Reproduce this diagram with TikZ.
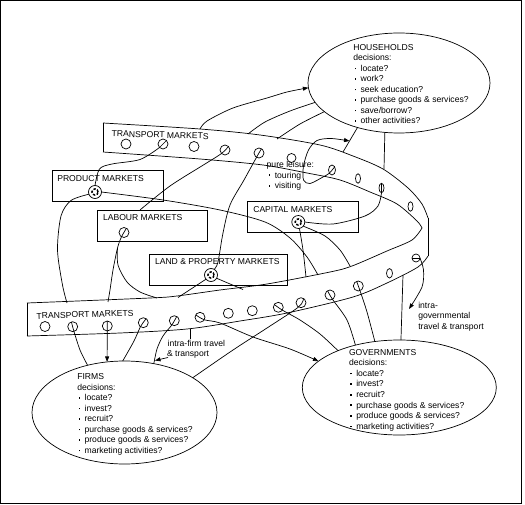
\documentclass[tikz,border=0pt]{standalone}
\usepackage{fontspec}
\setmainfont{Liberation Sans}
\usetikzlibrary{arrows.meta,shapes.geometric}
\newcommand{\bul}{\makebox[7.3pt][l]{\hspace{1.2pt}\rule[2pt]{1.7pt}{1.7pt}}}
\begin{document}
\begin{tikzpicture}[x=1pt,y=-1pt,line width=0.7pt,
 every node/.style={inner sep=0pt,outer sep=0pt},
 lbl/.style={font=\fontsize{8.6}{10.5}\selectfont},
 ell/.style={draw,ellipse},
 box/.style={draw,anchor=north west,minimum height=31pt},
 pc/.style={draw,circle,minimum size=10pt},
 nc/.style={draw,ellipse,minimum width=5pt,minimum height=9.5pt},
 mk/.style={draw,circle,minimum size=13pt,path picture={\draw[line width=1.5pt,dash pattern=on 2.4pt off 1.6pt] (path picture bounding box.center) circle[radius=3.1pt];}},
 arr/.style={-{Triangle[length=5.5pt,width=4pt]}}]
\fill[white] (0,0) rectangle (525,505);
\useasboundingbox (0,0) rectangle (525,505);
\draw[line width=1pt] (0.5,0.5) rectangle (521.5,503.5);

% ---------- ellipses ----------
\node[ell,minimum width=182pt,minimum height=100pt] (hh) at (399,83) {};
\node[ell,minimum width=185pt,minimum height=103pt] (fi) at (124.5,412.5) {};
\node[ell,minimum width=194pt,minimum height=95pt] (gov) at (399.3,387.5) {};

\node[lbl,anchor=north west,align=left] (hht) at (353.3,44.3) {HOUSEHOLDS\\decisions:\\\bul locate?\\\bul work?\\\bul seek education?\\\bul purchase goods \& services?\\\bul save/borrow?\\\bul other activities?};
\node[lbl,anchor=north west,align=left] (fit) at (77.3,373.8) {FIRMS\\decisions:\\\bul locate?\\\bul invest?\\\bul recruit?\\\bul purchase goods \& services?\\\bul produce goods \& services?\\\bul marketing activities?};
\node[lbl,anchor=north west,align=left,font=\fontsize{8.6}{10.6}\selectfont] (govt) at (349,349.1) {GOVERNMENTS\\decisions:\\\bul locate?\\\bul invest?\\\bul recruit?\\\bul purchase goods \& services?\\\bul produce goods \& services?\\\bul marketing activities?};

% ---------- market boxes ----------
\node[box,minimum width=111pt] (pmb) at (52,170) {};
\node[box,minimum width=110pt] (lbb) at (97,210) {};
\node[box,minimum width=110.5pt] (cmb) at (247.5,201) {};
\node[box,minimum width=138.5pt] (ldb) at (149,254) {};
\node[lbl,anchor=base west] (pml) at (57.3,182) {PRODUCT MARKETS};
\node[lbl,anchor=base west] (lbl1) at (103,221) {LABOUR MARKETS};
\node[lbl,anchor=base west] (cml) at (253.3,212.7) {CAPITAL MARKETS};
\node[lbl,anchor=base west] (ldl) at (155,265) {LAND \& PROPERTY MARKETS};
\node[mk] (pm) at (95,192) {};
\node[pc] (lm) at (124,232.5) {};
\node[mk] (cm) at (298.3,222) {};
\node[mk] (ld) at (211,275) {};

% ---------- transport ribbon ----------
\draw (103,152) -- (103,123);
\draw plot[smooth] coordinates {(103,123) (200,129) (260,135) (320,145) (353,156) (383,169) (408,188) (422,204) (428,218)};
\draw (428,218) -- (428,256);
\draw plot[smooth] coordinates {(428,256) (418,267) (387,283) (353,297) (287,313) (240,321) (187,329) (120,333) (27,336)};
\draw (27,336) -- (27,303);
\draw plot[smooth] coordinates {(27,303) (150,298) (177,296) (220,290) (267,284) (330,272) (352,266) (387,251) (412,240) (422,228)};
\draw plot[smooth] coordinates {(103,152) (200,159) (263,165) (307,173) (340,180) (370,192) (397,204) (417,221) (422,228)};
\node[lbl,anchor=base west,rotate=-1.5] (tpt) at (111.7,136.7) {TRANSPORT MARKETS};
\node[lbl,anchor=base west,rotate=1.7] (tpb) at (36.7,319) {TRANSPORT MARKETS};

% top band circles
\node[pc] (t1) at (126,144) {};
\node[pc] (t2) at (163,144) {};
\node[pc] (t3) at (194,146.5) {};
\node[pc] (t4) at (225,150) {};
\node[pc] (t5) at (259,153) {};
\node[pc,minimum size=9pt] (t6) at (291.5,158) {};
\node[draw,ellipse,minimum width=7pt,minimum height=10pt] (t7) at (332,170) {};
\node[nc] (t8) at (358,178.5) {};
\node[nc] (t9) at (381.5,188) {};
\node[nc] (t10) at (410.5,206.5) {};
% lower band circles
\node[pc] (b1) at (45,326.5) {};
\node[pc] (b2) at (72.7,326.7) {};
\node[pc] (b3) at (107.3,326) {};
\node[pc] (b4) at (143.3,322.7) {};
\node[pc] (b5) at (174.3,320.7) {};
\node[pc] (b6) at (200,317.3) {};
\node[pc] (b7) at (228.3,313.3) {};
\node[pc] (b8) at (252.3,310.7) {};
\node[pc] (b9) at (278.3,307.3) {};
\node[pc] (b10) at (301,302.7) {};
\node[pc] (b11) at (330,295) {};
\node[pc] (b12) at (358.3,286) {};
\node[nc,minimum width=6pt] (b13) at (389.5,273.3) {};
\node[pc,minimum size=8pt] (b14) at (416,258) {};

% ---------- free ends ----------
\coordinate (e1) at (200,129);
\coordinate (e2) at (248,134);
\coordinate (e3) at (277,139);
\coordinate (e4) at (343,152);
\coordinate (e5) at (384,169);
\coordinate (e6) at (140,210);
\coordinate (e7) at (318,275);
\coordinate (e8) at (67,303);
\coordinate (br) at (117.5,248);
\coordinate (e9) at (108,302);
\coordinate (e10) at (157,298);
\coordinate (e11) at (178,297.5);
\coordinate (e12) at (243,289.5);
\coordinate (e13) at (306,277);
\coordinate (e14) at (350,266);
\coordinate (e15) at (403,275);
\coordinate (it1) at (190,329);
\coordinate (it2) at (190,339);
\coordinate (ia1) at (168,357.5);
\coordinate (ia2) at (155,360.5);
\coordinate (ig) at (409,309);
\path (hh.227) -- (e4) coordinate[pos=0.55] (plA);

% ---------- connectors ----------
% households
\draw[arr] plot[smooth] coordinates {(e1) (207,121) (233,108) (267,98) (287,92) (hh.183)};
\draw plot[smooth] coordinates {(e2) (265,122) (290,111) (hh.193)};
\draw plot[smooth] coordinates {(e3) (300,124) (hh.201)};
\draw (hh.227) -- (e4);
\draw (hh.254) -- (e5);
\draw[arr] plot[smooth] coordinates {(t7.50) (t7.230) (323,177) (310,183.5) (303.5,180) (303.5,166) (308.5,150) (317,140.5) (331,138.5) (plA)};
% product markets
\draw plot[smooth] coordinates {(pm.north) (99.5,169) (112,164) (140,159.5) (t2.225)} -- (t2.45);
\draw plot[smooth] coordinates {(pm.east) (163,200) (220,210) (265,222) (290,238) (307,257) (e7)};
\draw plot[smooth] coordinates {(pm.200) (71,200.5) (61,216) (57.5,250) (62.5,285) (e8)};
% labour
\draw plot[smooth] coordinates {(t4.45) (t4.225) (205,164) (170,186) (e6)};
\draw plot[smooth] coordinates {(lm.60) (lm.240) (br) (113,270) (110,290) (e9)};
\draw plot[smooth] coordinates {(br) (118,265) (127,282) (140,292) (e10)};
% land
\draw plot[smooth] coordinates {(t5.60) (t5.240) (244,180) (230,205) (223,233) (218,262) (ld.60)};
\draw (ld.220) -- (e11);
\draw (ld.330) -- (e12);
% capital
\draw plot[smooth] coordinates {(cm.east) (333,224) (365,216) (378,206) (t9.south)} -- (t9.north);
\draw plot[smooth] coordinates {(cm.280) (303,250) (e13)};
\draw plot[smooth] coordinates {(cm.320) (325,236) (340,250) (e14)};
% firms
\draw plot[smooth] coordinates {(b2.105) (b2.285) (80,350) (fi.128)};
\draw[arr] (b3.north) -- (fi.109);
\draw plot[smooth] coordinates {(b4.55) (b4.235) (134,341) (fi.92)};
\draw plot[smooth] coordinates {(b5.60) (b5.240) (163,336) (157,349) (fi.59)};
\draw plot[smooth] coordinates {(b10.60) (b10.240) (267,328) (233,350) (fi.27)};
% governments
\draw[arr] plot[smooth] coordinates {(b6.150) (b6.330) (220,323) (253,337) (290,349) (gov.162)};
\draw plot[smooth] coordinates {(b9.145) (b9.325) (300,320) (320,334) (gov.149)};
\draw plot[smooth] coordinates {(b11.120) (b11.300) (347,320) (gov.136)};
\draw plot[smooth] coordinates {(b12.110) (b12.290) (367,312) (gov.118)};
\draw (gov.88) -- (e15);
\draw (b14.west) -- (b14.east);
\draw[arr] plot[smooth] coordinates {(b14.east) (423.5,270) (422,287) (ig)};
% intra-firm
\draw (it1) -- (it2);
\draw[arr] (ia1) -- (ia2);

% ---------- labels ----------
\node[lbl,anchor=base west] (pl1) at (266.7,167.7) {pure leisure:};
\node[lbl,anchor=base west] (pl2) at (267.5,178.2) {\bul touring};
\node[lbl,anchor=base west] (pl3) at (267.5,188.9) {\bul visiting};
\node[lbl,anchor=base west] (if1) at (167.7,346) {intra-firm travel};
\node[lbl,anchor=base west] (if2) at (167,356) {\& transport};
\node[lbl,anchor=base west] (ig1) at (418.3,308.3) {intra-};
\node[lbl,anchor=base west] (ig2) at (418.3,318.8) {governmental};
\node[lbl,anchor=base west] (ig3) at (418.3,329.3) {travel \& transport};
\end{tikzpicture}
\end{document}
